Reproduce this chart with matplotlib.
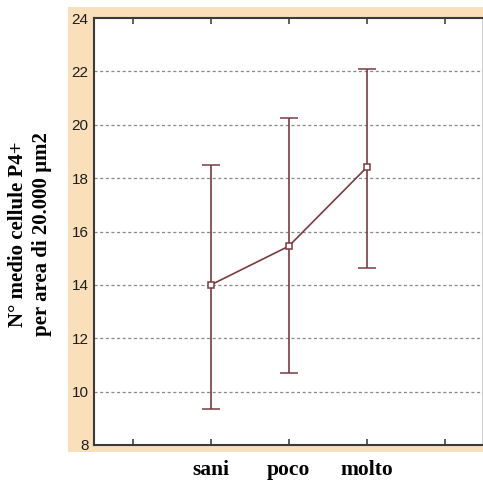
import matplotlib.pyplot as plt
from matplotlib.patches import Rectangle
from matplotlib.transforms import blended_transform_factory

# group means with the upper / lower limits of each error bar
categories = ["sani", "poco", "molto"]
positions = [2, 3, 4]
means = [14.0, 15.45, 18.4]
upper = [18.5, 20.25, 22.1]
lower = [9.35, 10.7, 14.65]

y_ticks = [8, 10, 12, 14, 16, 18, 20, 22, 24]

line_col = "#7a3c3e"
peach = "#f9dfba"

fig = plt.figure(figsize=(4.83, 4.80), dpi=100)
fig.patch.set_facecolor("white")

# peach frame behind the plot area
fig.patches.append(Rectangle((68 / 483, 28 / 480), 415 / 483, 445 / 480,
                             transform=fig.transFigure, facecolor=peach,
                             edgecolor="none", zorder=-5))

ax = fig.add_axes([94 / 483, 35 / 480, 388 / 483, 427 / 480])
ax.set_zorder(2)
ax.set_facecolor("white")

err_low = [m - l for m, l in zip(means, lower)]
err_high = [u - m for m, u in zip(means, upper)]
ax.errorbar(positions, means, yerr=[err_low, err_high], color=line_col,
            linewidth=1.2, elinewidth=1.2, capsize=6.5, capthick=1.2,
            marker="s", markersize=5, markerfacecolor="white",
            markeredgecolor=line_col, markeredgewidth=1.1, zorder=3)

ax.set_xlim(0.5, 5.48)
ax.set_ylim(8, 24)
ax.set_yticks(y_ticks)
ax.set_yticklabels([str(v) for v in y_ticks], fontsize=11,
                   family="Liberation Sans", color="#1e1e1e")
ax.set_xticks([1, 2, 3, 4, 5])
ax.set_xticklabels([])

for v in y_ticks[1:-1]:
    ax.axhline(v, color="#8a8a8a", linewidth=0.9, linestyle=(0, (2.5, 2)), zorder=1)

ax.tick_params(axis="y", length=0, pad=4)
ax.tick_params(axis="x", direction="in", length=4, width=1.1, color="#333333",
               top=True, bottom=True)

for side in ["left", "bottom", "top"]:
    ax.spines[side].set_color("#3a3a3a")
    ax.spines[side].set_linewidth(1.5)
ax.spines["right"].set_color("#cfcfcf")
ax.spines["right"].set_linewidth(0.8)

# category names below the plot area
trans = blended_transform_factory(ax.transData, fig.transFigure)
for x, name in zip(positions, categories):
    ax.text(x, 10 / 480, name, transform=trans, ha="center", va="center",
            family="Liberation Serif", fontweight="bold", fontsize=15.5)

fig.text(30 / 483, 0.5 + 6 / 480, "N° medio cellule P4+\nper area di 20.000 µm2",
         rotation=90, ha="center", va="center", family="Liberation Serif",
         fontweight="bold", fontsize=15, linespacing=1.3)

fig.savefig("out.png", dpi=100)
